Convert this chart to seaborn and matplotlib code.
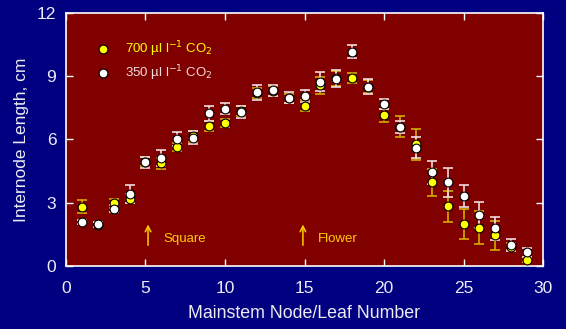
import numpy as np
import pandas as pd
import matplotlib
matplotlib.use("Agg")
import matplotlib.pyplot as plt
import seaborn as sns

# node numbers and mean internode length (cm)
nodes = list(range(1, 30))
len_700 = [2.81, 1.95, 2.97, 3.20, 4.95, 4.87, 5.65, 6.15, 6.65, 6.79,
           7.35, 8.20, 8.30, 7.95, 7.60, 8.58, 8.90, 8.91, 8.50, 7.14,
           6.60, 5.78, 3.97, 2.83, 2.00, 1.82, 1.45, 0.92, 0.30]
err_700 = [0.30, 0.12, 0.20, 0.20, 0.22, 0.25, 0.20, 0.25, 0.24, 0.20,
           0.25, 0.25, 0.22, 0.22, 0.25, 0.40, 0.35, 0.24, 0.30, 0.33,
           0.50, 0.74, 0.65, 0.75, 0.70, 0.78, 0.67, 0.15, 0.12]
len_350 = [2.08, 1.97, 2.72, 3.41, 4.91, 5.13, 6.02, 6.08, 7.24, 7.46,
           7.31, 8.23, 8.33, 7.98, 8.06, 8.75, 8.89, 10.17, 8.50, 7.68,
           6.60, 5.61, 4.44, 3.97, 3.30, 2.42, 1.79, 1.00, 0.65]
err_350 = [0.10, 0.12, 0.15, 0.43, 0.25, 0.38, 0.35, 0.30, 0.36, 0.25,
           0.30, 0.34, 0.25, 0.25, 0.30, 0.45, 0.40, 0.32, 0.36, 0.22,
           0.30, 0.50, 0.55, 0.68, 0.52, 0.60, 0.54, 0.30, 0.20]

navy = "#000080"
maroon = "#800000"
yellow = "#ffff00"
gold = "#d4aa00"
pink = "#f0dcdc"
light = "#ececf4"

sns.set_style("ticks")
plt.rcParams["font.family"] = ["Liberation Sans", "DejaVu Sans"]

df = pd.DataFrame({
    "node": nodes * 2,
    "length": len_700 + len_350,
    "err": err_700 + err_350,
    "co2": ["700"] * len(nodes) + ["350"] * len(nodes),
})

fig = plt.figure(figsize=(5.66, 3.29), dpi=100, facecolor=navy)
ax = fig.add_axes([0.1166, 0.1915, 0.8428, 0.769])
ax.set_facecolor(maroon)

d7 = df[df.co2 == "700"]
d3 = df[df.co2 == "350"]
ax.errorbar(d7.node, d7.length, yerr=d7.err, fmt="none", ecolor=gold,
            elinewidth=1.2, capsize=3.5, capthick=1.2, zorder=2)
ax.errorbar(d3.node, d3.length, yerr=d3.err, fmt="none", ecolor=pink,
            elinewidth=1.2, capsize=3.5, capthick=1.2, zorder=3)
sns.scatterplot(data=d7, x="node", y="length", color=yellow, edgecolor="black",
                linewidth=0.8, s=40, ax=ax, zorder=4, legend=False)
sns.scatterplot(data=d3, x="node", y="length", color="white", edgecolor="black",
                linewidth=0.8, s=40, ax=ax, zorder=5, legend=False)

ax.set_xlim(0, 30)
ax.set_ylim(0, 12)
ax.set_xticks([0, 5, 10, 15, 20, 25, 30])
ax.set_yticks([0, 3, 6, 9, 12])
ax.tick_params(direction="in", length=5, width=1, colors="white",
               labelcolor=light, labelsize=12.5, top=True, right=True, pad=7)
ax.tick_params(axis="x", pad=10.5)
for sp in ax.spines.values():
    sp.set_color("white")
    sp.set_linewidth(1.2)
ax.set_xlabel("Mainstem Node/Leaf Number", color=light, fontsize=12.8, labelpad=7)
ax.set_ylabel("Internode Length, cm", color=light, fontsize=12.5, labelpad=6)

# hand-made legend
ax.scatter([2.33], [10.28], s=40, color=yellow, edgecolor="black", linewidth=0.8, zorder=6)
ax.scatter([2.33], [9.15], s=40, color="white", edgecolor="black", linewidth=0.8, zorder=6)
ax.text(3.7, 10.28, r"700 µl l$^{-1}$ CO$_2$", color=yellow, fontsize=9.5, va="center")
ax.text(3.7, 9.15, r"350 µl l$^{-1}$ CO$_2$", color=pink, fontsize=9.5, va="center")

# stage arrows
for xa, lab in [(5.16, "Square"), (14.9, "Flower")]:
    ax.annotate("", xy=(xa, 2.1), xytext=(xa, 0.85),
                arrowprops=dict(arrowstyle="->", color="#ffcc00", lw=1.1))
    ax.text(xa + 0.95, 1.28, lab, color="#ffcc00", fontsize=9.5, va="center")

fig.savefig("out.png", dpi=100, facecolor=navy)
